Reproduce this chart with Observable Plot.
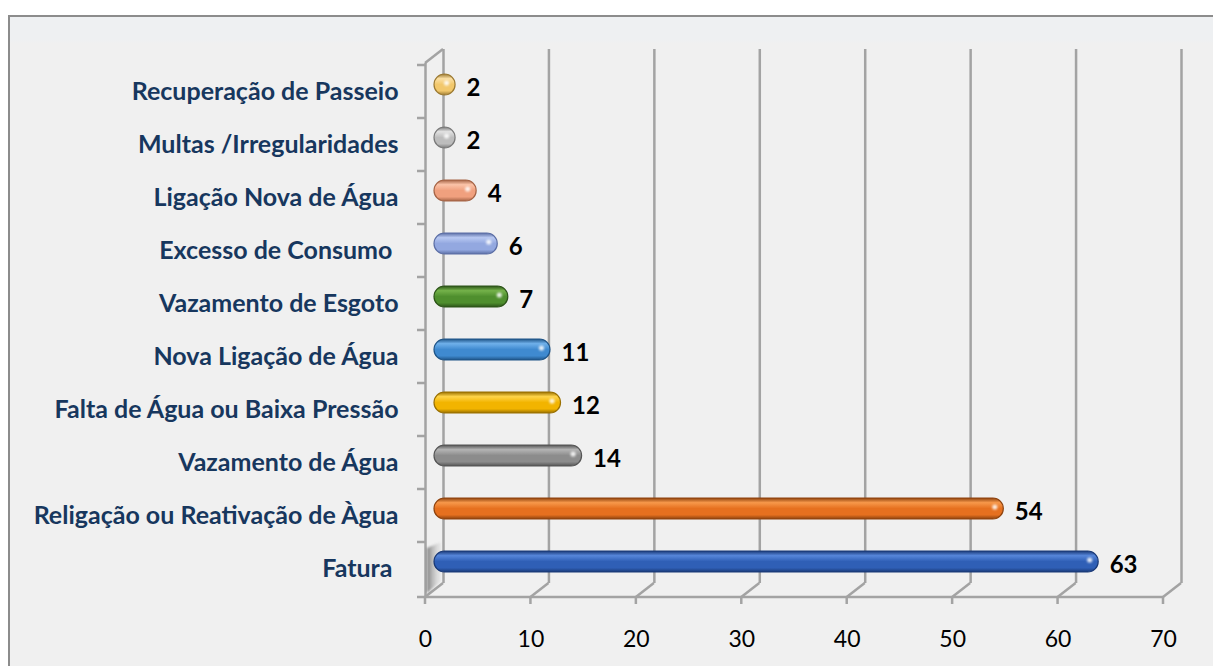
<!DOCTYPE html>
<html>
<head>
<meta charset="utf-8">
<script src="https://cdn.jsdelivr.net/npm/d3@7"></script>
<script src="https://cdn.jsdelivr.net/npm/@observablehq/plot@0.6"></script>
<style>
  html, body { margin: 0; padding: 0; background: #ffffff; width: 1213px; height: 666px; overflow: hidden; }
  #box { position: absolute; left: 8px; top: 15px; width: 1300px; height: 800px;
         border-left: 2px solid #8c8c8c; border-top: 2px solid #8c8c8c;
         background: linear-gradient(#eef0f2 0px, #eef0f2 22px, #f0f0f0 26px, #f0f0f0 100%); }
  #chart { position: absolute; left: 0; top: 0; }
  #chart svg { overflow: visible; background: transparent; }
  #chart text { white-space: pre; }
  #chart g[aria-label="dot"] circle { filter: blur(1.2px); }
</style>
</head>
<body>
<div id="box"></div>
<div id="chart"></div>
<script>
// ---- data (top to bottom as in the picture) ----
const categories = [
  "Recuperação de Passeio",
  "Multas /Irregularidades",
  "Ligação Nova de Água",
  "Excesso de Consumo ",
  "Vazamento de Esgoto",
  "Nova Ligação de Água",
  "Falta de Água ou Baixa Pressão",
  "Vazamento de Água",
  "Religação ou Reativação de Àgua",
  "Fatura "
];
const values = [2, 2, 4, 6, 7, 11, 12, 14, 54, 63];
const baseColors  = ["#f2c86c", "#bdbdbd", "#f0a07e", "#93a8e0", "#4f8f2e", "#3f8ad0", "#f2b400", "#8c8c8c", "#e6701f", "#2f5fb6"];
const lightColors = ["#fbe0a4", "#e2e2e2", "#fbc3a8", "#b8c8f2", "#74b24a", "#6fb0ea", "#ffd448", "#b4b4b4", "#f7984a", "#5686da"];
const darkColors  = ["#9c7a32", "#7a7a7a", "#a66446", "#5c6fa6", "#2c5418", "#1f5588", "#9a7000", "#555555", "#8f430e", "#1a3a78"];
const xTicks = [0, 10, 20, 30, 40, 50, 60, 70];

const data = categories.map((c, i) => ({cat: c, v: values[i], i}));

// 3D depth offsets
const DX = 18, DY = -14;
const FONT = "Lato, 'Open Sans', sans-serif";

// gradient defs mark
function defsMark() {
  const g = d3.create("svg:g");
  const defs = g.append("defs");
  data.forEach(d => {
    const lg = defs.append("linearGradient").attr("id", "cyl" + d.i)
      .attr("x1", 0).attr("y1", 0).attr("x2", 0).attr("y2", 1);
    lg.append("stop").attr("offset", "0%").attr("stop-color", darkColors[d.i]);
    lg.append("stop").attr("offset", "22%").attr("stop-color", lightColors[d.i]);
    lg.append("stop").attr("offset", "50%").attr("stop-color", baseColors[d.i]);
    lg.append("stop").attr("offset", "80%").attr("stop-color", baseColors[d.i]);
    lg.append("stop").attr("offset", "100%").attr("stop-color", darkColors[d.i]);
  });
  const sh = defs.append("linearGradient").attr("id", "wallShadow")
    .attr("x1", 0).attr("y1", 0).attr("x2", 1).attr("y2", 0);
  sh.append("stop").attr("offset", "0%").attr("stop-color", "#444").attr("stop-opacity", 0.75);
  sh.append("stop").attr("offset", "100%").attr("stop-color", "#bbb").attr("stop-opacity", 0.15);
  return g.node();
}

// 3D frame: floor edge, floor diagonals, wall top diagonal, band-boundary ticks
function frameMark(index, scales, values_, dims) {
  const x = scales.x, y = scales.y;
  const top = dims.marginTop, bot = dims.height - dims.marginBottom;
  const x0 = x(xTicks[0]), x1 = x(xTicks[xTicks.length - 1]);
  const g = d3.create("svg:g").attr("fill", "none").attr("stroke", "#a3a3a3").attr("stroke-width", 2.5);
  g.append("path").attr("d", `M${x0},${bot}H${x1}`);
  xTicks.forEach(t => g.append("path").attr("d", `M${x(t)},${bot}l${DX},${DY}`));
  g.append("path").attr("d", `M${x0},${top}l${DX},${DY}`);
  const bounds = categories.map(c => y(c)).concat([bot]);
  bounds.forEach(b => g.append("path").attr("d", `M${x0 - 8},${b}H${x0}`));
  xTicks.forEach(t => g.append("path").attr("d", `M${x(t)},${bot}v7`));
  return g.node();
}

// wall shadow near the bottom bar
function shadowMark(index, scales, values_, dims) {
  const x = scales.x, y = scales.y;
  const bot = dims.height - dims.marginBottom;
  const x0 = x(0);
  const yb = y(categories[categories.length - 1]);
  const g = d3.create("svg:g");
  g.append("path")
    .attr("d", `M${x0 + 2},${yb + 6}L${x0 + DX - 2},${yb + 6 + DY + 8}L${x0 + DX - 2},${bot + DY - 2}L${x0 + 2},${bot - 4}Z`)
    .attr("fill", "url(#wallShadow)").attr("opacity", 0.85).style("filter", "blur(1px)");
  return g.node();
}

const chart = Plot.plot({
  width: 1213,
  height: 666,
  marginLeft: 425,
  marginRight: 50,
  marginTop: 63,
  marginBottom: 69,
  style: {background: "transparent", overflow: "visible"},
  x: {domain: [0, 70], ticks: xTicks},
  y: {domain: categories, padding: 0},
  marks: [
    defsMark,
    Plot.ruleX(xTicks, {dx: DX, dy: DY, stroke: "#a3a3a3", strokeWidth: 2.5}),
    Plot.ruleX([0], {stroke: "#a3a3a3", strokeWidth: 2.5}),
    frameMark,
    shadowMark,
    Plot.axisX({ticks: xTicks, tickSize: 0, tickPadding: 33, fontSize: 23, fill: "#000",
                fontFamily: FONT, label: null}),
    Plot.axisY({tickSize: 0, tickPadding: 27, fontSize: 25, fontWeight: "bold", fill: "#17375e",
                fontFamily: FONT, label: null}),
    ...data.map(d => Plot.barX([d], {
      x: "v", y: "cat",
      insetTop: 16, insetBottom: 16,
      dx: DX / 2, dy: DY / 2,
      rx: 10.5,
      fill: `url(#cyl${d.i})`,
      stroke: darkColors[d.i], strokeWidth: 1.2
    })),
    Plot.dot(data, {x: "v", y: "cat", dx: DX / 2 - 9, dy: DY / 2 - 2, r: 2.6,
                    fill: "#ffffff", fillOpacity: 0.85, stroke: null}),
    Plot.text(data, {x: "v", y: "cat", text: d => String(d.v), dx: DX / 2 + 11, dy: -3.5,
                     textAnchor: "start", fontSize: 24, fontWeight: "bold", fill: "#000",
                     fontFamily: FONT})
  ]
});
document.getElementById("chart").appendChild(chart);
</script>
</body>
</html>
